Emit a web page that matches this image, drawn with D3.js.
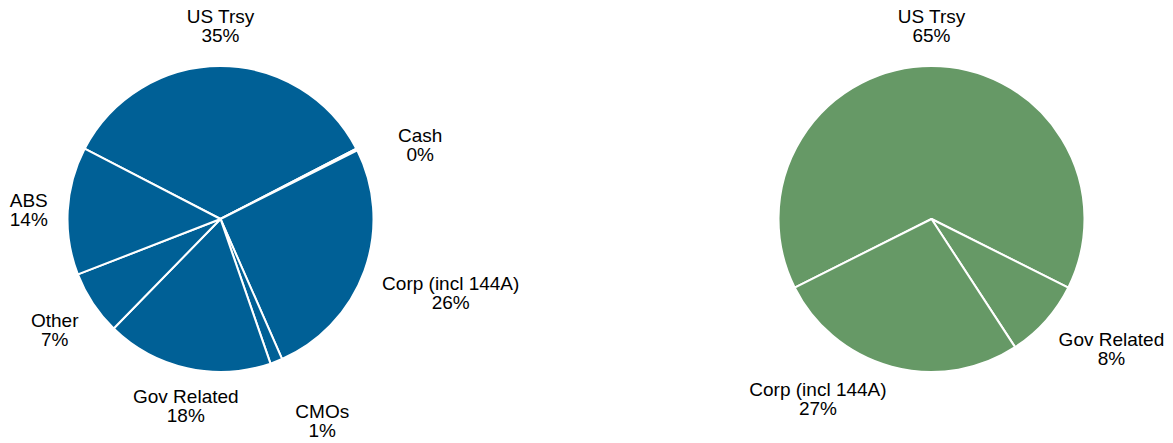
<!DOCTYPE html>
<html>
<head>
<meta charset="utf-8">
<script src="https://cdn.jsdelivr.net/npm/d3@7"></script>
<style>
  html, body { margin: 0; padding: 0; background: #ffffff; }
  svg { display: block; }
  text { font-family: "Liberation Sans", Arial, Helvetica, sans-serif; font-size: 19px; fill: #000; }
</style>
</head>
<body>
<svg id="chart" width="1173" height="443"></svg>
<script>
// Portfolio sector allocation (percent of total)
const leftCategories = ["US Trsy", "Cash", "Corp (incl 144A)", "CMOs", "Gov Related", "Other", "ABS"];
const leftValues     = [34.8, 0.2, 25.8, 1.3, 17.6, 6.8, 13.5];

const rightCategories = ["US Trsy", "Gov Related", "Corp (incl 144A)"];
const rightValues     = [64.8, 8.4, 26.8];

// Layout
const radius = 153;
const labelGap = 22;
const lineHeight = 19;
const halfBlock = 19;

const pies = [
  { cats: leftCategories, vals: leftValues, cx: 220.5, cy: 219, color: "#006096",
    nudge: { "Cash": [24, 14], "CMOs": [28, 21], "Gov Related": [15, -2], "Corp (incl 144A)": [1, 8], "Other": [0, 4], "ABS": [2, 1], "US Trsy": [0, 1] } },
  { cats: rightCategories, vals: rightValues, cx: 931.5, cy: 219, color: "#669966",
    nudge: { "Gov Related": [10, 1], "Corp (incl 144A)": [-50, -7], "US Trsy": [0, 1] } }
];

const svg = d3.select("#chart");
const measure = svg.append("text").attr("visibility", "hidden");
function textWidth(s) { measure.text(s); return measure.node().getComputedTextLength(); }

pies.forEach(p => {
  const data = p.cats.map((c, i) => ({ name: c, value: p.vals[i] }));
  const total = d3.sum(data, d => d.value);
  // first slice centred on the top of the circle
  const start = -Math.PI * (data[0].value / total);
  const pie = d3.pie().sort(null).value(d => d.value)
    .startAngle(start).endAngle(start + 2 * Math.PI);
  const arcs = pie(data);
  const arc = d3.arc().innerRadius(0).outerRadius(radius);

  const g = svg.append("g").attr("transform", `translate(${p.cx},${p.cy})`);
  g.selectAll("path.slice").data(arcs).enter().append("path")
    .attr("class", "slice")
    .attr("d", arc)
    .attr("fill", p.color)
    .attr("stroke", "#ffffff")
    .attr("stroke-width", 2)
    .attr("stroke-linejoin", "round");

  arcs.forEach(a => {
    const mid = (a.startAngle + a.endAngle) / 2;
    const s = Math.sin(mid), c = Math.cos(mid);
    const pct = Math.round(a.data.value / total * 100) + "%";
    const hw = Math.max(textWidth(a.data.name), textWidth(pct)) / 2;
    const n = p.nudge[a.data.name] || [0, 0];
    const x = s * (radius + labelGap + hw) + n[0];
    const y = -c * (radius + labelGap + halfBlock) + n[1];
    const t = g.append("text").attr("text-anchor", "middle")
      .attr("transform", `translate(${x},${y - 3})`);
    t.append("tspan").attr("x", 0).attr("y", 0).text(a.data.name);
    t.append("tspan").attr("x", 0).attr("y", lineHeight).text(pct);
  });
});
measure.remove();
</script>
</body>
</html>
